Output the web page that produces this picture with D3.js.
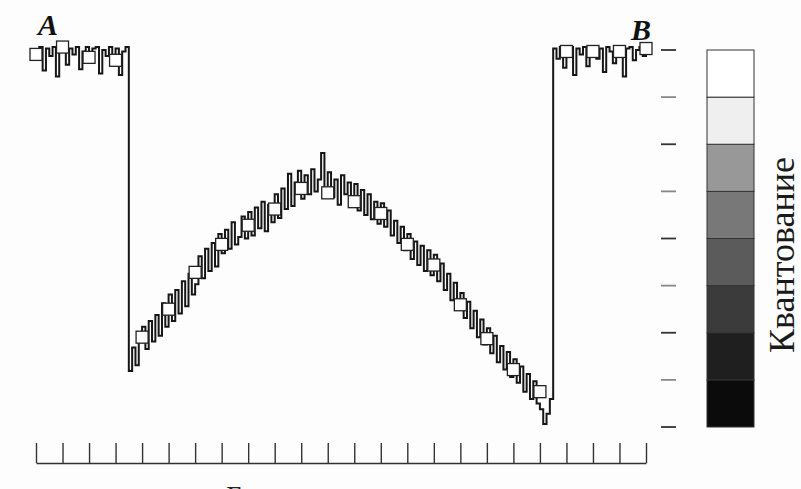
<!DOCTYPE html>
<html>
<head>
<meta charset="utf-8">
<script src="https://cdn.jsdelivr.net/npm/d3@7"></script>
<style>
  body { margin: 0; background: #fcfdfc; }
  svg { display: block; }
</style>
</head>
<body>
<div id="wall"></div>
<script>
// brightness profile A -> B, 8 samples per tick interval
const traceStep = 1 / 8;
const traceValues = [
  // plateau at A
  250, 258, 242, 257, 252, 258, 238, 256, 258, 246, 257, 253, 258, 243, 255, 258, 249, 257, 258, 240, 256, 252, 258, 247, 257, 239, 255, 258,
  // profile
  38, 54, 42, 60,
  68, 53, 72, 58, 76, 62, 84, 68,
  90, 72, 93, 77, 99, 82, 104, 90,
  97, 116, 101, 121, 106, 125, 109, 131,
  118, 134, 121, 139, 124, 129, 143, 128,
  146, 130, 149, 135, 153, 133, 151, 139,
  158, 142, 162, 148, 172, 150, 166, 174,
  155, 171, 158, 175, 160, 168, 186, 162,
  173, 156, 168, 151, 171, 158, 166, 150,
  165, 147, 161, 144, 158, 141, 153, 138,
  152, 136, 147, 130, 140, 125, 136, 120,
  131, 114, 126, 110, 123, 106, 120, 103,
  117, 99, 111, 93, 104, 86, 98, 80,
  91, 74, 85, 67, 79, 61, 73, 56,
  67, 50, 62, 44, 55, 39, 51, 34,
  46, 30, 41, 24, 36, 19, 31, 16,
  12, 2, 9, 19,
  // plateau at B
  257, 250, 258, 244, 256, 258, 239, 257, 253, 258, 245, 256, 258, 250, 257, 241, 258, 255, 247, 258, 256, 238, 257, 258, 249, 256, 258, 252, 258
];

// quantized value at every tick (squares)
const sampleValues = [253, 258, 251, 249, 61, 80, 105, 124, 137, 148, 162, 159, 153, 145, 124, 110, 83, 60, 39, 24, 255, 255, 255, 257];

// colour scale levels, bottom to top
const levels = [0, 32, 64, 96, 128, 160, 192, 224];
const levelColors = ["#0b0b0b", "#1f1f1f", "#3b3b3b", "#5b5b5b", "#787878", "#989898", "#efefef", "#ffffff"];

const width = 801;
const height = 489;
const svg = d3.select("#wall").append("svg").attr("width", width).attr("height", height);

const x = d3.scaleLinear().domain([0, 23]).range([36, 646]);
const y = d3.scaleLinear().domain([0, 256]).range([427, 50]);

// bottom scale with ticks
svg.append("g")
  .attr("transform", "translate(0,463)")
  .call(d3.axisTop(x).ticks(23).tickSize(20).tickSizeOuter(0).tickFormat(""))
  .call(g => g.selectAll("path, line").attr("stroke", "#333").attr("stroke-width", 1.4));

// trace
const line = d3.line()
  .x((d, i) => x(i * traceStep))
  .y(d => y(d))
  .curve(d3.curveStepAfter);

svg.append("path")
  .datum(traceValues)
  .attr("d", line)
  .attr("fill", "none")
  .attr("stroke", "#161616")
  .attr("stroke-width", 2);

// squares on the samples
const sq = 12;
svg.selectAll(".sample")
  .data(sampleValues)
  .enter().append("rect")
  .attr("class", "sample")
  .attr("x", (d, i) => x(i) - sq / 2)
  .attr("y", d => y(d) - sq / 2)
  .attr("width", sq)
  .attr("height", sq)
  .attr("fill", "#fff")
  .attr("stroke", "#222")
  .attr("stroke-width", 1.3);

// colour bar
const barX = 707, barW = 47;
svg.selectAll(".level")
  .data(levels)
  .enter().append("rect")
  .attr("class", "level")
  .attr("x", barX)
  .attr("y", d => y(d + 32))
  .attr("width", barW)
  .attr("height", d => y(d) - y(d + 32))
  .attr("fill", (d, i) => levelColors[i])
  .attr("stroke", "#333")
  .attr("stroke-width", 1);

// ticks of the colour bar
svg.selectAll(".ctick")
  .data(d3.range(0, 257, 32))
  .enter().append("line")
  .attr("class", "ctick")
  .attr("x1", 661).attr("x2", 676)
  .attr("y1", d => y(d)).attr("y2", d => y(d))
  .attr("stroke", (d, i) => i % 2 ? "#888" : "#333")
  .attr("stroke-width", 1.8);

svg.append("text")
  .attr("transform", "translate(794,255) rotate(-90)")
  .attr("text-anchor", "middle")
  .style("font-family", "Liberation Serif, serif")
  .style("font-size", "36px")
  .attr("fill", "#1a1a1a")
  .text("Квантование");

// end labels
svg.append("text")
  .attr("x", 38).attr("y", 35)
  .style("font-family", "Liberation Serif, serif")
  .style("font-size", "30px").style("font-style", "italic").style("font-weight", "bold")
  .attr("fill", "#111")
  .text("A");

svg.append("text")
  .attr("x", 631).attr("y", 40)
  .style("font-family", "Liberation Serif, serif")
  .style("font-size", "30px").style("font-style", "italic").style("font-weight", "bold")
  .attr("fill", "#111")
  .text("B");

// axis caption, cut at the bottom edge as in the scan
svg.append("text")
  .attr("x", 226).attr("y", 506)
  .style("font-family", "Liberation Serif, serif")
  .style("font-size", "30px")
  .attr("fill", "#222")
  .text("Б");
</script>
</body>
</html>
